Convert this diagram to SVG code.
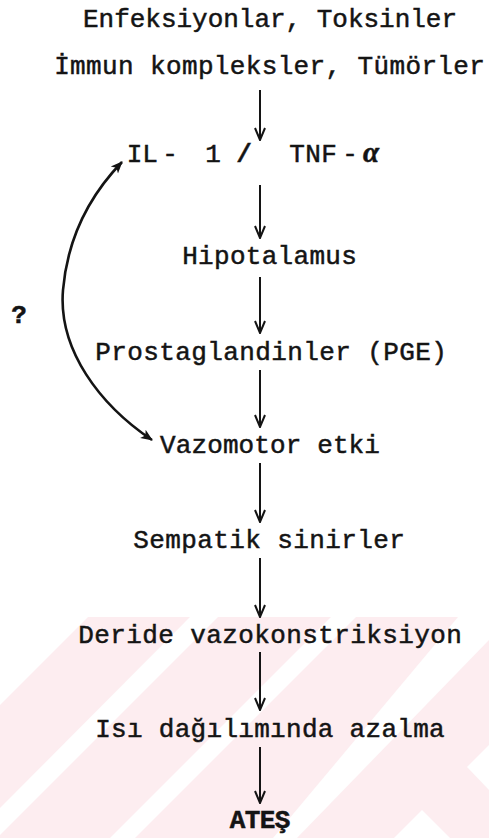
<svg xmlns="http://www.w3.org/2000/svg" width="489" height="838" viewBox="0 0 489 838">
  <style>
    text { font-family: "Liberation Mono", "DejaVu Sans Mono", monospace; font-size: 26px; fill: #141414; stroke: #141414; stroke-width: 0.5; text-anchor: middle; }
    .b { font-weight: bold; }
    .greek { font-family: "Liberation Serif", serif; font-style: italic; font-weight: bold; font-size: 29px; }
    .arrow { stroke: #141414; stroke-width: 2; fill: none; }
    .curve { stroke: #141414; stroke-width: 2.6; fill: none; }
  </style>
  <defs>
    <marker id="head" viewBox="0 0 14 12" refX="13" refY="6" markerWidth="14" markerHeight="12" markerUnits="userSpaceOnUse" orient="auto">
      <path d="M1 1 L13 6 L1 11" fill="none" stroke="#141414" stroke-width="2"/>
    </marker>
    <marker id="solid" viewBox="0 0 12 12" refX="11" refY="6" markerWidth="12" markerHeight="12" markerUnits="userSpaceOnUse" orient="auto-start-reverse">
      <path d="M0 1 L12 6 L0 11 L3 6 Z" fill="#141414"/>
    </marker>
  </defs>

  <!-- faint pink background band with diagonal light stripes -->
  <g id="backdrop">
    <rect x="0" y="617" width="489" height="221" fill="#fdedf0"/>
    <g fill="#ffffff">
      <polygon points="0,617 88,617 0,705"/>
      <polygon points="190,617 218,617 0,835 0,808"/>
      <polygon points="331,617 356,617 135,838 110,838"/>
      <polygon points="458,617 489,617 489,640 297,838 273,838"/>
      <polygon points="489,745 467,767 489,790"/>
      <polygon points="422,810 450,838 394,838"/>
    </g>
  </g>

  <!-- connectors -->
  <g id="connectors">
    <line class="arrow" x1="260" y1="90" x2="260" y2="140" marker-end="url(#head)"/>
    <line class="arrow" x1="260" y1="185" x2="260" y2="238" marker-end="url(#head)"/>
    <line class="arrow" x1="260" y1="277" x2="260" y2="333" stroke-width="2.4" marker-end="url(#head)"/>
    <line class="arrow" x1="260" y1="370" x2="260" y2="427" marker-end="url(#head)"/>
    <line class="arrow" x1="260" y1="463" x2="260" y2="522" stroke-width="2.4" marker-end="url(#head)"/>
    <line class="arrow" x1="260" y1="558" x2="260" y2="617" marker-end="url(#head)"/>
    <line class="arrow" x1="260" y1="652" x2="260" y2="710" stroke-width="2.4" marker-end="url(#head)"/>
    <line class="arrow" x1="260" y1="747" x2="260" y2="803" stroke-width="2.4" marker-end="url(#head)"/>
    <path class="curve" d="M122 162 C95 190 68 232 63 290 C58 350 100 405 152 440" marker-start="url(#solid)" marker-end="url(#solid)"/>
  </g>

  <!-- labels on a fixed typewriter pitch: one x per character -->
  <g id="n-sources">
    <text y="27" x="90.8 106.4 122 137.5 153.1 168.7 184.3 199.9 215.5 231 246.6 262.2 277.8 293.4 309 324.5 340.1 355.7 371.3 386.9 402.5 418 433.6 449.2">Enfeksiyonlar, Toksinler</text>
    <text y="74" x="62 77.9 93.9 109.9 125.8 141.8 157.8 173.7 189.7 205.7 221.6 237.6 253.5 269.5 285.5 301.4 317.4 333.4 349.3 365.3 381.3 397.2 413.2 429.2 445.1 461.1 477">İmmun kompleksler, Tümörler</text>
  </g>

  <g id="n-cytokines">
    <text y="162" x="134.5 150 160 170 190 213 228 244 270 297 313 329 340 350">IL - 1 <tspan font-weight="bold">/</tspan> TNF -</text>
    <text class="greek" y="162" x="371">α</text>
  </g>

  <g id="n-question">
    <text class="b" x="19" y="323">?</text>
  </g>

  <g id="n-hypothalamus">
    <text y="264" x="190 205.9 221.8 237.7 253.6 269.5 285.4 301.3 317.2 333.1 349">Hipotalamus</text>
  </g>

  <g id="n-pge">
    <text y="360" x="103 119 135 151 167 183 199 215 231 247 263 279 295 311 327 343 359 375 391 407 423 439">Prostaglandinler (PGE)</text>
  </g>

  <g id="n-vasomotor">
    <text y="453" x="167.9 183.6 199.3 215 230.7 246.4 262.1 277.9 293.6 309.3 325 340.7 356.4 372.1">Vazomotor etki</text>
  </g>

  <g id="n-sympathetic">
    <text y="548" x="141 157 173 189 205 221 237 253 269 285 301 317 333 349 365 381 397">Sempatik sinirler</text>
  </g>

  <g id="n-vasoconstriction">
    <text y="643" x="86 102 118 134 150 166 182 198 214 230 246 262 278 294 310 326 342 358 374 390 406 422 438 454">Deride vazokonstriksiyon</text>
  </g>

  <g id="n-heatloss">
    <text y="737" x="103 118.9 134.8 150.7 166.6 182.5 198.4 214.3 230.2 246.1 262 277.9 293.8 309.7 325.6 341.5 357.4 373.3 389.2 405.1 421 436.9">Isı dağılımında azalma</text>
  </g>

  <g id="n-fever">
    <text class="b" y="828" x="237.5 252.5 267.5 282.5">ATEŞ</text>
  </g>
</svg>
